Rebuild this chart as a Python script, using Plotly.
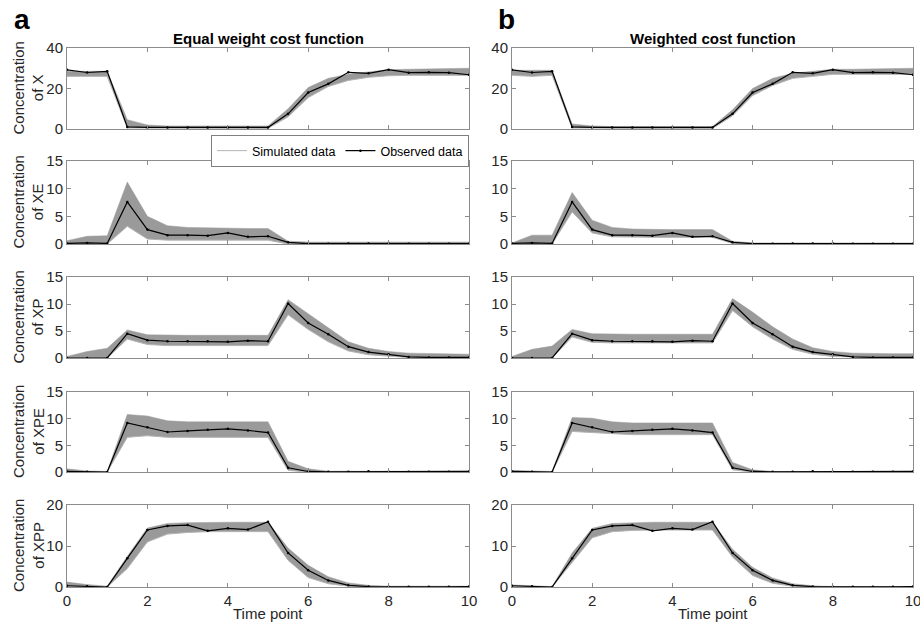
import plotly.graph_objects as go
from plotly.subplots import make_subplots

time = [0, 0.5, 1, 1.5, 2, 2.5, 3, 3.5, 4, 4.5, 5, 5.5, 6, 6.5, 7, 7.5, 8, 8.5, 9, 9.5, 10]

species = ["X", "XE", "XP", "XPE", "XPP"]
col_titles = ["Equal weight cost function", "Weighted cost function"]

# Observed data (same in both panels)
obs_X   = [29.2, 27.9, 28.5, 1.0, 0.8, 0.8, 0.8, 0.8, 0.8, 0.8, 0.8, 7.5, 18.0, 22.3, 28.0, 27.5, 29.3, 27.8, 28.0, 27.8, 26.8]
obs_XE  = [0.1, 0.2, 0.1, 7.6, 2.6, 1.6, 1.6, 1.5, 2.0, 1.3, 1.4, 0.3, 0.05, 0.05, 0.1, 0.1, 0.1, 0.05, 0.05, 0.05, 0.05]
obs_XP  = [0.0, 0.0, 0.0, 4.5, 3.3, 3.1, 3.1, 3.1, 3.0, 3.2, 3.1, 10.1, 6.5, 4.4, 2.1, 1.1, 0.7, 0.2, 0.1, 0.1, 0.1]
obs_XPE = [0.1, 0.05, 0.0, 9.2, 8.4, 7.5, 7.7, 7.9, 8.1, 7.8, 7.4, 0.8, 0.1, 0.05, 0.05, 0.15, 0.05, 0.05, 0.05, 0.05, 0.1]
obs_XPP = [0.3, 0.2, 0.0, 7.0, 13.9, 14.9, 15.1, 13.7, 14.3, 14.0, 15.9, 8.3, 4.1, 1.6, 0.4, 0.1, 0.05, 0.05, 0.05, 0.05, 0.1]

# Simulated band, equal weight cost function (lower / upper)
eq_X_lo   = [26.0, 26.0, 26.0, 0.5, 0.5, 0.3, 0.3, 0.3, 0.3, 0.3, 0.3, 6.0, 15.5, 21.0, 24.0, 25.5, 26.3, 26.5, 26.5, 26.5, 26.5]
eq_X_hi   = [28.5, 28.5, 28.5, 4.6, 2.0, 1.5, 1.5, 1.5, 1.5, 1.5, 1.5, 10.0, 20.5, 25.0, 27.0, 28.2, 29.3, 29.5, 29.7, 29.8, 30.0]
eq_XE_lo  = [0.0, 0.0, 0.0, 3.2, 0.9, 0.7, 0.7, 0.7, 0.7, 0.7, 0.7, 0.0, 0.0, 0.0, 0.0, 0.0, 0.0, 0.0, 0.0, 0.0, 0.0]
eq_XE_hi  = [0.6, 1.4, 1.5, 11.2, 5.0, 3.3, 3.0, 2.9, 2.8, 2.8, 2.8, 0.5, 0.35, 0.35, 0.35, 0.35, 0.35, 0.35, 0.35, 0.35, 0.35]
eq_XP_lo  = [0.0, 0.0, 0.0, 3.5, 2.5, 2.3, 2.3, 2.3, 2.3, 2.3, 2.3, 8.0, 5.3, 3.0, 1.3, 0.6, 0.3, 0.1, 0.05, 0.05, 0.05]
eq_XP_hi  = [0.3, 1.2, 1.8, 5.2, 4.3, 4.2, 4.2, 4.2, 4.2, 4.2, 4.2, 10.8, 8.2, 5.5, 3.0, 1.8, 1.2, 0.9, 0.8, 0.7, 0.7]
eq_XPE_lo = [0.0, 0.0, 0.0, 6.5, 6.8, 6.5, 6.5, 6.5, 6.5, 6.5, 6.5, 0.3, 0.0, 0.0, 0.0, 0.0, 0.0, 0.0, 0.0, 0.0, 0.0]
eq_XPE_hi = [0.6, 0.2, 0.1, 10.8, 10.5, 9.6, 9.4, 9.4, 9.4, 9.4, 9.4, 2.0, 0.6, 0.15, 0.15, 0.15, 0.15, 0.15, 0.15, 0.15, 0.15]
eq_XPP_lo = [0.1, 0.05, 0.0, 4.5, 11.0, 12.9, 13.3, 13.5, 13.5, 13.5, 13.5, 6.5, 2.3, 0.8, 0.2, 0.05, 0.0, 0.0, 0.0, 0.0, 0.0]
eq_XPP_hi = [1.2, 0.6, 0.2, 7.5, 14.4, 15.5, 15.7, 15.8, 15.8, 15.8, 15.8, 9.5, 5.3, 2.5, 1.0, 0.4, 0.2, 0.2, 0.2, 0.2, 0.2]

# Simulated band, weighted cost function (lower / upper)
w_X_lo   = [26.5, 26.0, 26.5, 0.5, 0.5, 0.3, 0.3, 0.3, 0.3, 0.3, 0.3, 6.5, 16.5, 21.5, 25.0, 26.0, 27.0, 27.0, 27.0, 27.0, 27.0]
w_X_hi   = [29.0, 29.0, 29.0, 2.5, 1.5, 1.2, 1.2, 1.2, 1.2, 1.2, 1.2, 9.5, 20.0, 25.0, 27.5, 28.5, 29.5, 29.5, 29.7, 29.8, 30.0]
w_XE_lo  = [0.0, 0.0, 0.0, 5.8, 2.0, 1.3, 1.2, 1.2, 1.2, 1.2, 1.2, 0.1, 0.0, 0.0, 0.0, 0.0, 0.0, 0.0, 0.0, 0.0, 0.0]
w_XE_hi  = [0.2, 1.6, 1.6, 9.3, 4.3, 3.0, 2.7, 2.6, 2.6, 2.6, 2.6, 0.5, 0.2, 0.2, 0.2, 0.2, 0.2, 0.2, 0.2, 0.2, 0.2]
w_XP_lo  = [0.0, 0.0, 0.0, 3.9, 2.9, 2.8, 2.8, 2.8, 2.8, 2.8, 2.8, 8.8, 5.8, 3.5, 1.6, 0.7, 0.3, 0.2, 0.1, 0.1, 0.1]
w_XP_hi  = [0.3, 1.6, 2.2, 5.3, 4.5, 4.4, 4.4, 4.4, 4.4, 4.4, 4.4, 11.0, 8.5, 5.8, 3.5, 1.9, 1.2, 0.9, 0.8, 0.8, 0.8]
w_XPE_lo = [0.0, 0.0, 0.0, 7.6, 7.4, 7.1, 7.0, 7.0, 7.0, 7.0, 7.0, 0.4, 0.0, 0.0, 0.0, 0.0, 0.0, 0.0, 0.0, 0.0, 0.0]
w_XPE_hi = [0.3, 0.15, 0.1, 10.2, 10.1, 9.4, 9.2, 9.2, 9.2, 9.2, 9.2, 1.8, 0.4, 0.1, 0.1, 0.1, 0.1, 0.1, 0.1, 0.1, 0.1]
w_XPP_lo = [0.1, 0.05, 0.0, 6.0, 12.0, 13.5, 13.8, 13.9, 13.9, 13.9, 13.9, 7.3, 2.8, 0.9, 0.2, 0.05, 0.0, 0.0, 0.0, 0.0, 0.0]
w_XPP_hi = [0.5, 0.3, 0.1, 8.3, 14.3, 15.5, 15.7, 15.8, 15.8, 15.8, 15.8, 9.2, 4.8, 2.2, 0.8, 0.3, 0.1, 0.1, 0.1, 0.1, 0.1]

observed = [obs_X, obs_XE, obs_XP, obs_XPE, obs_XPP]
bands = [
    [(eq_X_lo, eq_X_hi), (eq_XE_lo, eq_XE_hi), (eq_XP_lo, eq_XP_hi), (eq_XPE_lo, eq_XPE_hi), (eq_XPP_lo, eq_XPP_hi)],
    [(w_X_lo, w_X_hi), (w_XE_lo, w_XE_hi), (w_XP_lo, w_XP_hi), (w_XPE_lo, w_XPE_hi), (w_XPP_lo, w_XPP_hi)],
]
y_ranges = [[0, 40], [0, 15], [0, 15], [0, 15], [0, 20]]
y_ticks = [[0, 20, 40], [0, 5, 10, 15], [0, 5, 10, 15], [0, 5, 10, 15], [0, 10, 20]]
x_ticks = [0, 2, 4, 6, 8, 10]

W, H = 920, 626
col_px = [(67, 469), (512, 913)]
row_px = [(48, 129), (161, 244), (277, 358), (392, 472), (505, 587)]

FONT = "Liberation Sans, Arial, Helvetica, sans-serif"
TXT = "#262626"
AX = "#8c8c8c"
BAND = "#9a9a9a"

fig = make_subplots(rows=5, cols=2)

for c in range(2):
    for r in range(5):
        lo, hi = bands[c][r]
        first = (c == 0 and r == 0)
        fig.add_trace(go.Scatter(x=time, y=lo, mode="lines",
                                 line=dict(color="#b4b4b4", width=1),
                                 name="Simulated data", showlegend=first),
                      row=r + 1, col=c + 1)
        fig.add_trace(go.Scatter(x=time, y=hi, mode="lines",
                                 line=dict(color=BAND, width=0.5),
                                 fill="tonexty", fillcolor=BAND,
                                 showlegend=False, hoverinfo="skip"),
                      row=r + 1, col=c + 1)
        fig.add_trace(go.Scatter(x=time, y=observed[r], mode="lines+markers",
                                 line=dict(color="black", width=1.2),
                                 marker=dict(color="black", size=2.5),
                                 name="Observed data", showlegend=first),
                      row=r + 1, col=c + 1)

for c in range(2):
    for r in range(5):
        idx = r * 2 + c + 1
        xs = "xaxis" if idx == 1 else f"xaxis{idx}"
        ys = "yaxis" if idx == 1 else f"yaxis{idx}"
        x0, x1 = col_px[c]
        t0, t1 = row_px[r]
        fig.layout[xs].update(
            domain=[x0 / W, x1 / W], range=[0, 10], tickvals=x_ticks,
            showticklabels=(r == 4), ticks="inside", ticklen=4, tickcolor=AX,
            showline=True, linecolor=AX, linewidth=1, mirror="ticks",
            showgrid=False, zeroline=False, ticklabeloverflow="allow",
            tickfont=dict(family=FONT, size=15, color=TXT), automargin=False)
        fig.layout[ys].update(
            domain=[1 - t1 / H, 1 - t0 / H], range=y_ranges[r], tickvals=y_ticks[r],
            ticks="inside", ticklen=4, tickcolor=AX,
            showline=True, linecolor=AX, linewidth=1, mirror="ticks",
            showgrid=False, zeroline=False, ticklabeloverflow="allow",
            tickfont=dict(family=FONT, size=15, color=TXT), automargin=False)

annotations = []
def ann(text, x, y, size, color=TXT, angle=0):
    annotations.append(dict(text=text, x=x / W, y=1 - y / H, xref="paper", yref="paper",
                            xanchor="center", yanchor="middle", showarrow=False,
                            textangle=angle, font=dict(family=FONT, size=size, color=color)))

for c in range(2):
    x0, x1 = col_px[c]
    ann(f"<b>{col_titles[c]}</b>", (x0 + x1) / 2, 38, 15, "black")
    ann("Time point", (x0 + x1) / 2, 613, 15)
ann("<b>a</b>", 22, 19, 28, "black")
ann("<b>b</b>", 506, 19, 28, "black")
for r in range(5):
    t0, t1 = row_px[r]
    ann(f"Concentration<br>of {species[r]}", 28, (t0 + t1) / 2, 15, angle=-90)

fig.update_layout(
    width=W, height=H, margin=dict(l=0, r=0, t=0, b=0),
    paper_bgcolor="white", plot_bgcolor="white",
    annotations=annotations,
    legend=dict(orientation="h", x=469 / W, xanchor="right", y=1 - 135 / H, yanchor="top",
                bgcolor="white", bordercolor="#808080", borderwidth=1,
                traceorder="normal",
                font=dict(family=FONT, size=12.5, color="black"),
                itemwidth=30, tracegroupgap=0),
)

fig.write_html("out.html")
